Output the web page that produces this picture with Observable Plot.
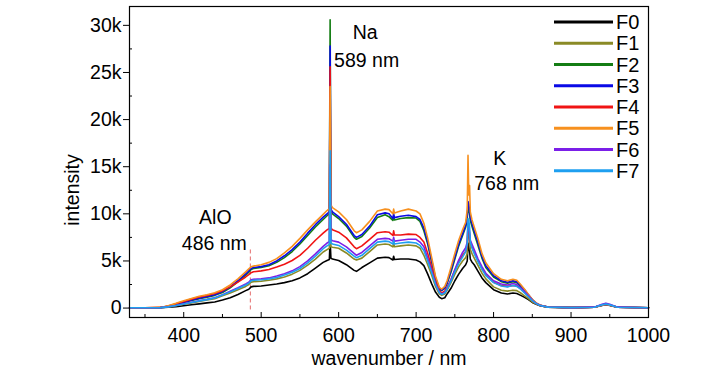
<!DOCTYPE html>
<html><head><meta charset="utf-8">
<script src="https://cdn.jsdelivr.net/npm/d3@7"></script>
<script src="https://cdn.jsdelivr.net/npm/@observablehq/plot@0.6"></script>
<style>
html,body{margin:0;padding:0;background:#fff;}
#wrap{position:relative;width:728px;height:381px;font-family:"Liberation Sans",Arial,sans-serif;}
#legend{position:absolute;left:0;top:0;pointer-events:none;}
</style></head><body><div id="wrap"></div>
<script>
// wavelength (nm)
const wavelength = [330,350,370,380,390,400,410,420,430,440,450,460,470,480,484,487,490,500,510,520,530,540,550,560,570,580,585,588,589,590,592,600,610,620,623,630,640,650,660,665,670,671,672,680,690,700,705,710,715,720,725,730,733,737,740,745,750,755,760,764,766,767,768,769,770,772,775,780,785,790,800,810,818,825,830,835,840,845,850,855,860,870,900,930,940,945,950,960,1000];
// intensity, in thousands (k)
const F0 = [.03,.03,.05,.08,.15,.25,.35,.45,.55,.65, .85,1.10,1.45,1.85,2.00,2.25,2.30,2.35,2.45,2.55, 2.70,2.90,3.20,3.65,4.25,4.85,5.05,5.15,7.20,5.30, 5.20,5.05,4.60,4.00,3.90,4.30,4.80,5.30,5.40,5.35, 5.10,5.50,5.15,5.20,5.20,5.10,4.90,4.50,3.60,2.60, 1.70,1.15,1.00,1.10,1.50,2.10,2.90,3.60,4.20,4.60, 5.00,6.90,6.50,6.00,5.20,4.90,4.60,3.90,3.20,2.70, 1.95,1.60,1.50,1.60,1.55,1.35,1.15,.90,.60,.40, .25,.10,.05,.08,.28,.35,.28,.08,.03];
const F1 = [.03,.03,.05,.12,.25,.40,.55,.70,.85,1.00, 1.30,1.60,1.95,2.30,2.50,2.75,2.80,2.85,2.95,3.10, 3.30,3.60,4.00,4.55,5.20,5.95,6.20,6.35,14.0,6.50, 6.45,6.35,5.85,5.20,5.10,5.30,6.00,6.70,6.80,6.75, 6.50,6.90,6.50,6.60,6.70,6.60,6.35,5.60,4.60,3.50, 2.30,1.50,1.35,1.50,1.90,2.70,3.60,4.40,5.00,5.35, 5.80,8.50,8.00,7.20,6.20,5.80,5.30,4.50,3.70,3.10, 2.25,1.90,1.80,1.90,1.85,1.60,1.30,1.00,.65,.42, .26,.10,.05,.08,.30,.38,.30,.08,.03];
const F2 = [.03,.04,.06,.18,.38,.60,.80,1.00,1.15,1.35, 1.65,2.15,2.80,3.50,3.80,4.10,4.20,4.30,4.50,4.85, 5.35,6.00,6.80,7.70,8.60,9.40,9.80,10.00,30.6,10.30, 10.00,9.50,8.70,7.50,7.30,7.60,8.50,9.60,9.90,9.70, 9.30,9.80,9.35,9.50,9.60,9.55,9.20,8.20,6.80,4.90, 3.10,2.00,1.85,2.10,2.60,3.80,5.20,6.60,7.70,8.60, 9.50,10.80,10.50,10.00,9.30,8.70,7.90,6.60,5.30,4.30, 3.30,2.80,2.65,2.80,2.70,2.30,1.85,1.35,.85,.50, .30,.11,.05,.09,.32,.40,.32,.09,.03];
const F3 = [.03,.04,.06,.18,.40,.62,.85,1.05,1.22,1.42, 1.75,2.25,2.90,3.62,3.95,4.20,4.30,4.40,4.60,5.00, 5.55,6.20,7.00,7.95,8.85,9.65,10.00,10.20,27.8,10.50, 10.20,9.70,8.90,7.70,7.50,7.80,8.70,9.90,10.10,10.00, 9.50,10.00,9.60,9.75,9.85,9.70,9.40,8.50,7.00,5.10, 3.20,2.10,1.90,2.15,2.70,4.00,5.40,6.80,7.90,8.80, 9.80,11.30,11.00,10.40,9.60,9.00,8.20,6.90,5.50,4.50, 3.45,2.90,2.75,2.90,2.80,2.40,1.95,1.40,.90,.52, .30,.11,.05,.09,.32,.40,.32,.09,.03];
const F4 = [.03,.04,.07,.22,.45,.70,.95,1.18,1.35,1.55, 1.85,2.25,2.75,3.30,3.55,3.75,3.85,3.95,4.10,4.35, 4.65,5.05,5.60,6.35,7.20,7.95,8.30,8.45,25.6,8.50, 8.30,8.05,7.45,6.50,6.30,6.60,7.30,8.00,8.10,8.05, 7.70,8.20,7.75,7.75,7.85,7.80,7.50,7.00,5.80,4.30, 2.80,1.85,1.60,1.80,2.20,3.00,4.00,4.90,5.60,6.00, 6.50,9.00,8.60,7.80,7.00,6.50,5.90,5.00,4.20,3.55, 2.75,2.40,2.30,2.40,2.35,2.05,1.65,1.25,.80,.48, .28,.10,.05,.08,.30,.38,.30,.08,.03];
const F5 = [.03,.04,.07,.25,.50,.78,1.02,1.25,1.42,1.62, 1.95,2.45,3.10,3.85,4.15,4.38,4.45,4.60,4.85,5.25, 5.85,6.55,7.40,8.30,9.15,9.95,10.35,10.55,23.5,10.95, 10.65,10.20,9.40,8.20,8.00,8.30,9.20,10.30,10.50,10.45, 10.00,10.50,10.10,10.30,10.50,10.30,10.00,9.00,7.40,5.40, 3.40,2.20,2.00,2.30,2.90,4.30,5.80,7.20,8.30,9.10, 10.50,16.20,12.00,13.00,10.20,9.40,8.60,7.30,5.80,4.80, 3.65,3.05,2.90,3.05,2.95,2.50,2.00,1.45,.92,.55, .32,.12,.05,.09,.33,.42,.33,.09,.03];
const F6 = [.03,.03,.05,.14,.28,.45,.62,.78,.93,1.10, 1.42,1.78,2.15,2.55,2.75,3.00,3.05,3.10,3.20,3.40, 3.65,3.95,4.40,5.00,5.75,6.55,6.90,7.05,15.2,7.25, 7.15,7.00,6.50,5.80,5.60,5.90,6.60,7.30,7.40,7.35, 7.10,7.50,7.10,7.20,7.30,7.30,7.00,6.50,5.30,4.00, 2.60,1.70,1.50,1.65,2.10,3.00,4.10,5.10,5.90,6.40, 7.00,9.20,8.80,8.00,7.20,6.80,6.20,5.20,4.40,3.70, 2.90,2.55,2.45,2.60,2.50,2.15,1.75,1.30,.82,.50, .30,.11,.05,.10,.40,.52,.40,.10,.03];
const F7 = [.03,.03,.05,.13,.27,.44,.60,.76,.90,1.06, 1.38,1.72,2.08,2.45,2.65,2.90,2.95,3.00,3.10,3.25, 3.50,3.80,4.20,4.80,5.50,6.30,6.60,6.75,16.7,6.90, 6.80,6.65,6.15,5.50,5.35,5.60,6.30,7.00,7.10,7.05, 6.80,7.20,6.80,6.90,7.00,6.90,6.65,6.10,5.00,3.80, 2.50,1.65,1.45,1.60,2.00,2.85,3.85,4.75,5.40,6.00, 6.80,9.50,9.30,8.60,7.00,6.40,5.80,4.90,4.10,3.45, 2.70,2.35,2.25,2.40,2.30,2.00,1.60,1.20,.78,.47, .28,.10,.05,.09,.34,.42,.34,.09,.03];

const seriesNames = ["F0","F1","F2","F3","F4","F5","F6","F7"];
const seriesColors = ["#000000","#8a8a26","#147d14","#0a0ae6","#f01414","#f7901e","#7b1fe8","#1e9ff0"];
const xTicks = [400,500,600,700,800,900,1000];
const xMinorTicks = [350,450,550,650,750,850,950];
const yTicks = [0,5,10,15,20,25,30];
const yMinorTicks = [2.5,7.5,12.5,17.5,22.5,27.5];
const annotations = [
  {nm: 589, line1: "Na", line2: "589 nm"},
  {nm: 768, line1: "K", line2: "768 nm"},
  {nm: 486, line1: "AlO", line2: "486 nm"}
];
const markerLines = [{nm: 486, from: -0.2, to: 6.3}];

const seriesValues = [F0,F1,F2,F3,F4,F5,F6,F7];
const rows = [];
seriesNames.forEach((name, i) => {
  seriesValues[i].forEach((v, j) => rows.push({series: name, nm: wavelength[j], intensity: v}));
});

// layout
const W = 728, H = 381, mL = 129, mR = 80, mT = 6, mB = 64;
const frameW = W - mL - mR, frameH = H - mT - mB;
const FONT = "'Liberation Sans', Arial, Helvetica, sans-serif";
const annotationOffsets = [
  {dx1: 35, dy1: 26, dx2: 36.5, dy2: 54},
  {dx1: 31, dy1: 152, dx2: 38, dy2: 177},
  {dx1: -35, dy1: 211, dx2: -36, dy2: 237}
];

const annotationMarks = [];
annotations.forEach((a, i) => {
  const o = annotationOffsets[i];
  annotationMarks.push(Plot.text([a], {x: "nm", frameAnchor: "top", text: "line1", dx: o.dx1, dy: o.dy1, lineAnchor: "middle", textAnchor: "middle", fill: "#000"}));
  annotationMarks.push(Plot.text([a], {x: "nm", frameAnchor: "top", text: "line2", dx: o.dx2, dy: o.dy2, lineAnchor: "middle", textAnchor: "middle", fill: "#000"}));
});

const chart = Plot.plot({
  width: W, height: H,
  marginLeft: mL, marginRight: mR, marginTop: mT, marginBottom: mB,
  style: {fontFamily: FONT, fontSize: "19.5px", color: "#000", background: "#fff", overflow: "visible"},
  x: {domain: [330, 1000]},
  y: {domain: [-1, 32]},
  color: {domain: seriesNames, range: seriesColors},
  marks: [
    Plot.axisX({ticks: xTicks, tickSize: 0, tickPadding: 11, tickFormat: d => String(d), label: null}),
    Plot.tickX(xTicks, {x: d => d, insetTop: frameH - 5, stroke: "#000"}),
    Plot.tickX(xMinorTicks, {x: d => d, insetTop: frameH - 3, stroke: "#000"}),
    Plot.axisY({ticks: yTicks, tickSize: 6, tickPadding: 2, tickFormat: d => d === 0 ? "0" : d + "k", label: null}),
    Plot.tickY(yMinorTicks, {y: d => d, insetRight: frameW - 3, stroke: "#000"}),
    Plot.ruleX(markerLines, {x: "nm", y1: "from", y2: "to", stroke: "#e46a6a", strokeWidth: 1, strokeDasharray: "4,3"}),
    Plot.line(rows, {x: "nm", y: "intensity", z: "series", stroke: "series", strokeWidth: 1.6}),
    Plot.frame({stroke: "#000", strokeWidth: 1.2}),
    Plot.text(["intensity"], {frameAnchor: "left", text: d => d, dx: -57, dy: 28, rotate: -90, lineAnchor: "middle", textAnchor: "middle", fill: "#000"}),
    Plot.text(["wavenumber / nm"], {frameAnchor: "bottom", text: d => d, dy: 41, lineAnchor: "middle", textAnchor: "middle", fill: "#000"}),
    ...annotationMarks
  ]
});
const wrap = document.getElementById("wrap");
wrap.appendChild(chart);

// legend overlay
const leg = d3.select(wrap).append("svg").attr("id", "legend").attr("width", W).attr("height", H);
seriesNames.forEach((name, i) => {
  const y = 22 + i * 21.25;
  leg.append("line").attr("x1", 554).attr("x2", 613).attr("y1", y).attr("y2", y)
    .attr("stroke", seriesColors[i]).attr("stroke-width", 3);
  leg.append("text").attr("x", 616).attr("y", y).attr("dy", "0.36em")
    .attr("font-family", FONT).attr("font-size", "20px").attr("fill", "#000").text(name);
});
</script>
</body></html>
